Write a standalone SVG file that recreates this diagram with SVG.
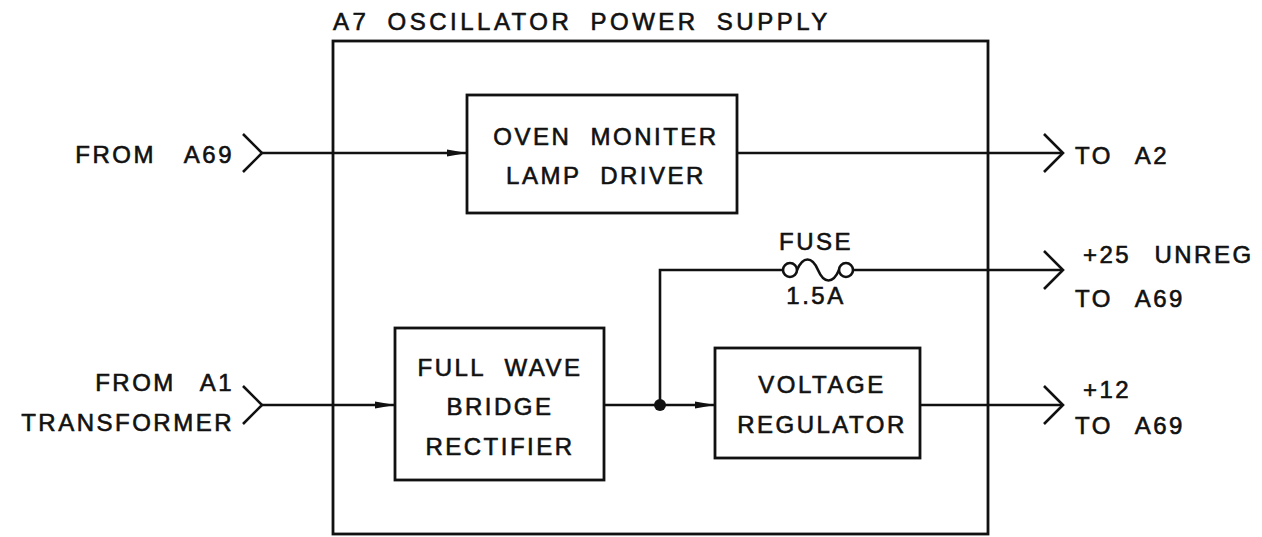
<svg xmlns="http://www.w3.org/2000/svg" width="1262" height="537" viewBox="0 0 1262 537">
<defs>
<style>
.box{fill:none;stroke:#111;stroke-width:2.8}
.ln{fill:none;stroke:#111;stroke-width:2.6}
.t{font-family:"Liberation Sans",Arial,sans-serif;font-size:24px;fill:#111;stroke:#111;stroke-width:0.6;letter-spacing:2.5px;word-spacing:10px}
.c{text-anchor:middle}
.e{text-anchor:end}
</style>
<marker id="arw" viewBox="0 0 20 10" refX="20" refY="5" markerWidth="20" markerHeight="10" markerUnits="userSpaceOnUse" orient="auto">
<path d="M0,1.5 L20,5 L0,8.5 Z" fill="#111"/>
</marker>
</defs>
<rect width="1262" height="537" fill="#fff"/>
<g id="outer">
<rect class="box" x="333" y="41" width="655" height="493"/>
<text class="t" x="333" y="30" style="letter-spacing:3.5px;word-spacing:8px">A7 OSCILLATOR POWER SUPPLY</text>
</g>
<g id="oven">
<rect class="box" x="467" y="95" width="270" height="118"/>
<text class="t c" x="606" y="145">OVEN MONITER</text>
<text class="t c" x="606" y="184">LAMP DRIVER</text>
</g>
<g id="fwb">
<rect class="box" x="395" y="328" width="209" height="152"/>
<text class="t c" x="500" y="376">FULL WAVE</text>
<text class="t c" x="500" y="415">BRIDGE</text>
<text class="t c" x="500" y="455">RECTIFIER</text>
</g>
<g id="vreg">
<rect class="box" x="715" y="348" width="205" height="110"/>
<text class="t c" x="822" y="393">VOLTAGE</text>
<text class="t c" x="822" y="433">REGULATOR</text>
</g>
<g id="fuse">
<circle class="ln" cx="790" cy="270" r="7"/>
<circle class="ln" cx="846" cy="270" r="7"/>
<path class="ln" d="M797,270 C803,256 812,256 818,270 C824,284 833,284 839,270"/>
<text class="t c" x="816" y="250">FUSE</text>
<text class="t c" x="816" y="304">1.5A</text>
</g>
<g id="ports">
<text class="t e" x="234" y="163" style="word-spacing:20px">FROM A69</text>
<text class="t e" x="234" y="391" style="word-spacing:16px">FROM A1</text>
<text class="t e" x="234" y="431">TRANSFORMER</text>
<text class="t" x="1075" y="164" style="word-spacing:14px">TO A2</text>
<text class="t" x="1083" y="263" style="word-spacing:14px">+25 UNREG</text>
<text class="t" x="1075" y="307" style="word-spacing:14px">TO A69</text>
<text class="t" x="1083" y="398">+12</text>
<text class="t" x="1075" y="434" style="word-spacing:14px">TO A69</text>
</g>
<g id="connectors">
<polyline class="ln" points="243,134 262,153 243,172"/>
<line class="ln" x1="262" y1="153" x2="467" y2="153" marker-end="url(#arw)"/>
<line class="ln" x1="737" y1="153" x2="1062" y2="153"/>
<polyline class="ln" points="1044,134 1063,153 1044,172"/>
<polyline class="ln" points="243,386 262,405 243,424"/>
<line class="ln" x1="262" y1="405" x2="395" y2="405" marker-end="url(#arw)"/>
<line class="ln" x1="604" y1="405" x2="715" y2="405" marker-end="url(#arw)"/>
<circle cx="660" cy="405" r="6" fill="#111"/>
<polyline class="ln" points="660,405 660,270 783,270"/>
<line class="ln" x1="853" y1="270" x2="1062" y2="270"/>
<polyline class="ln" points="1044,251 1063,270 1044,289"/>
<line class="ln" x1="920" y1="405" x2="1062" y2="405"/>
<polyline class="ln" points="1044,386 1063,405 1044,424"/>
</g>
</svg>
